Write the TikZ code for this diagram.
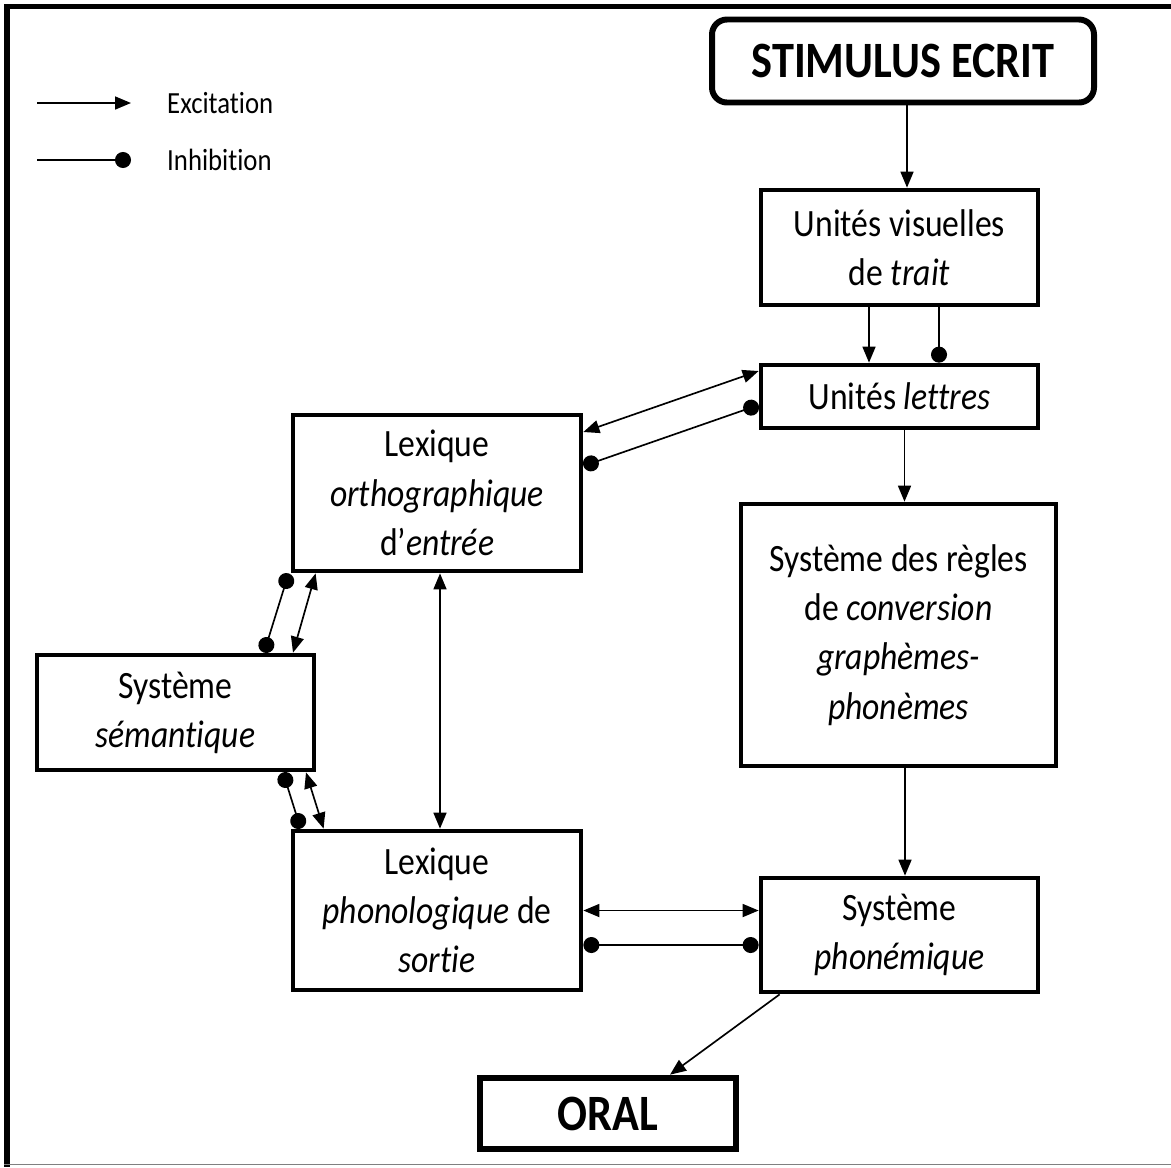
\documentclass[tikz,border=0pt]{standalone}
\usepackage{fontspec}
\setmainfont{Carlito}[FakeStretch=0.87,Ligatures=NoCommon]
\usetikzlibrary{arrows.meta}
\tikzset{
  boite/.style={draw,line width=2.7pt,align=center,inner sep=0pt,font=\fontsize{22}{28}\selectfont},
  titre/.style={draw,line width=3.4pt,align=center,inner sep=0pt,font=\fontsize{29}{34}\selectfont\bfseries},
  exc/.style={line width=0.95pt,-{Triangle[length=3.2mm,width=2.6mm]}},
  excexc/.style={line width=0.95pt,{Triangle[length=3.2mm,width=2.6mm]}-{Triangle[length=3.2mm,width=2.6mm]}},
  inh/.style={line width=0.95pt,-{Circle[length=3.2mm]}},
  inhinh/.style={line width=0.95pt,{Circle[length=3.2mm]}-{Circle[length=3.2mm]}},
}
\begin{document}
\begin{tikzpicture}
	\useasboundingbox (0,0) rectangle (23.42,-23.34);
	% cadre
	\draw[line width=3.2pt] (23.42,-0.13) -- (0.14,-0.13) -- (0.14,-23.34);
	\draw[gray,line width=0.6pt] (0.08,-23.28) -- (23.42,-23.28);
	% legende
	\coordinate (m1) at (0.74,-2.06);
	\coordinate (m2) at (2.62,-2.06);
	\coordinate (n1) at (0.74,-3.2);
	\coordinate (n2) at (2.62,-3.2);
	\node[anchor=west,font=\fontsize{17.5}{20}\selectfont] (M) at (3.22,-2.06) {Excitation};
	\node[anchor=west,font=\fontsize{17.5}{20}\selectfont] (N) at (3.22,-3.2) {Inhibition};
	\draw[exc] (m1) -- (m2);
	\draw[inh] (n1) -- (n2);
	% modules
	\node[titre,rounded corners=0.3cm,minimum width=7.64cm,minimum height=1.66cm] (A) at (18.06,-1.22) {STIMULUS ECRIT};
	\node[boite,minimum width=5.54cm,minimum height=2.3cm] (B) at (17.99,-4.95) {Unités visuelles\\de \textit{trait}};
	\node[boite,minimum width=5.54cm,minimum height=1.26cm] (C) at (17.99,-7.93) {Unités \textit{lettres}};
	\node[boite,minimum width=5.76cm,minimum height=3.12cm] (D) at (8.74,-9.86) {Lexique\\\textit{orthographique}\\d'\textit{entrée}};
	\node[boite,minimum width=6.3cm,minimum height=5.24cm] (E) at (17.97,-12.70) {Système des règles\\de \textit{conversion}\\\textit{graphèmes-}\\\textit{phonèmes}};
	\node[boite,minimum width=5.54cm,minimum height=2.3cm] (F) at (3.51,-14.25) {Système\\\textit{sémantique}};
	\node[boite,minimum width=5.76cm,minimum height=3.18cm] (G) at (8.74,-18.21) {Lexique\\\textit{phonologique} de\\\textit{sortie}};
	\node[boite,minimum width=5.54cm,minimum height=2.28cm] (H) at (17.99,-18.70) {Système\\\textit{phonémique}};
	\node[titre,line width=3.8pt,minimum width=5.12cm,minimum height=1.42cm] (I) at (12.16,-22.27) {ORAL};
	% connexions
	\draw[exc] ([xshift=0.08cm]A.south) -- ([xshift=0.08cm]A.south |- B.north);
	\draw[exc] ([xshift=-0.61cm]B.south) -- ([xshift=-0.61cm]C.north);
	\draw[inh] ([xshift=0.79cm]B.south) -- ([xshift=0.79cm]C.north);
	\draw[excexc] ([yshift=1.22cm]D.east) -- ([yshift=0.51cm]C.west);
	\draw[inhinh] ([yshift=0.54cm]D.east) -- ([yshift=-0.17cm]C.west);
	\draw[exc] ([xshift=0.1cm]C.south) -- ([xshift=0.1cm]C.south |- E.north);
	\draw[exc] ([xshift=0.13cm]E.south) -- ([xshift=0.13cm]E.south |- H.north);
	\draw[excexc] ([xshift=0.06cm]D.south) -- ([xshift=0.06cm]D.south |- G.north);
	\draw[excexc] (G.east) -- (G.east -| H.west);
	\draw[inhinh] ([yshift=-0.69cm]G.east) -- ([yshift=-0.69cm]G.east -| H.west);
	\draw[inhinh] ([xshift=-0.04cm]D.south west) -- ([xshift=1.77cm]F.north);
	\draw[excexc] ([xshift=0.5cm]D.south west) -- ([xshift=2.35cm]F.north);
	\draw[inhinh] ([xshift=2.15cm]F.south) -- ([xshift=0.2cm]G.north west);
	\draw[excexc] ([xshift=2.61cm]F.south) -- ([xshift=0.66cm]G.north west);
	\draw[exc] ([xshift=0.42cm]H.south west) -- ([xshift=1.24cm]I.north);
\end{tikzpicture}
\end{document}
